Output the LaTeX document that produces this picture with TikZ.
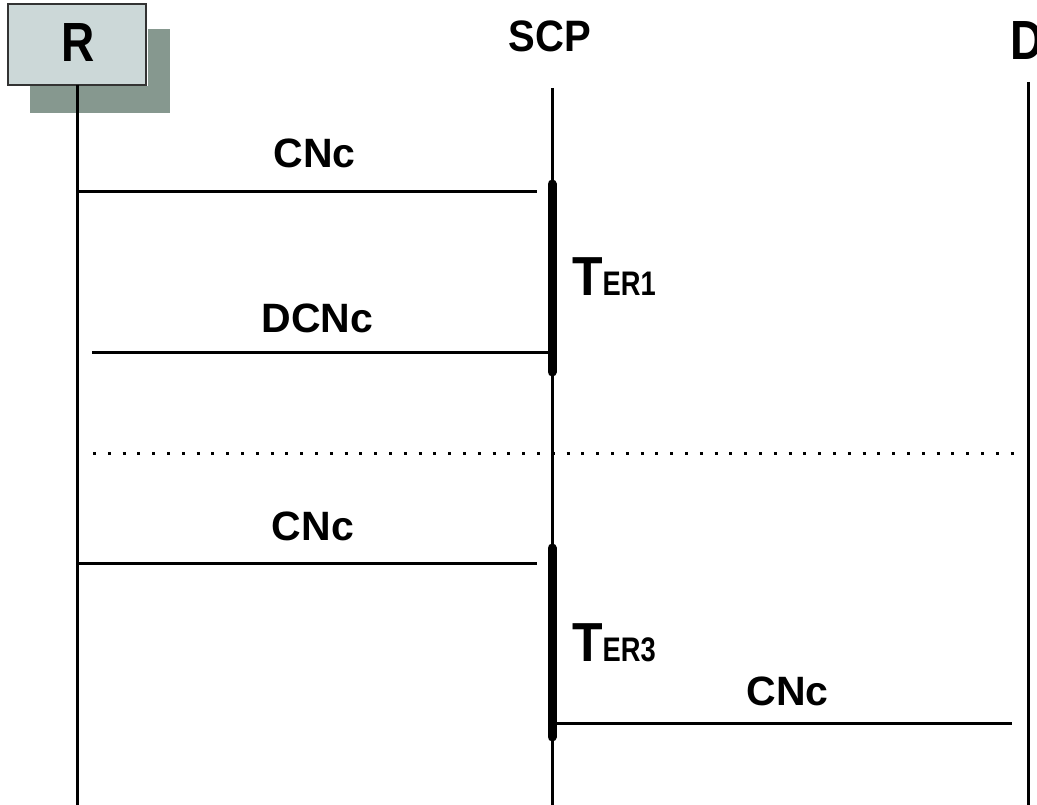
\documentclass[tikz,border=0pt]{standalone}
\usepackage{fontspec}
\setmainfont{Liberation Sans}
\usetikzlibrary{calc}
\definecolor{boxfill}{HTML}{CCD8D8}
\definecolor{boxshadow}{HTML}{86988F}
\newcommand{\drawMessage}[7]{%
    \coordinate (#1-from) at (#3,#2);
    \coordinate (#1-to) at (#4,#2);
    \draw[msg] (#1-from) -- (#1-to);
    \node[lbl, anchor=base] (#1-label) at (#6,#7) {#5};
}
\newcommand{\drawTimer}[4]{%
    \coordinate (#1-start) at (552,#2);
    \coordinate (#1-end) at (552,#3);
    \draw[bar] (#1-start) -- (#1-end);
    \node[anchor=base west, inner sep=0pt] (#1-label) at (572,{#3-76})
        {\scalebox{1}[1.1]{{\fontsize{50}{50}\selectfont T}\scalebox{0.88}[1]{\fontsize{31}{31}\selectfont ER#4}}};
}

\begin{document}
\begin{tikzpicture}[x=1pt, y=-1pt,
    every node/.style={font=\bfseries},
    life/.style={line width=3pt},
    msg/.style={line width=3pt},
    bar/.style={line width=9pt, line cap=round},
    lbl/.style={inner sep=0pt, font=\bfseries\fontsize{41}{41}\selectfont}]
\useasboundingbox (0,0) rectangle (1037,805);

\node[draw=black!80, line width=2pt, fill=boxfill, minimum width=138pt, minimum height=81pt, inner sep=0pt] (Rbox) at (77,44.5) {};
\fill[boxshadow] ($(Rbox.south west)+(23,27)$) rectangle ($(Rbox.south east)+(23,0)$);
\fill[boxshadow] ($(Rbox.north east)+(1,26)$) rectangle ($(Rbox.south east)+(23,0)$);
\node[draw=black!80, line width=2pt, fill=boxfill, minimum width=138pt, minimum height=81pt, inner sep=0pt] at (Rbox) {};
\node[anchor=base, inner sep=0pt] (R) at (78,62) {\scalebox{1}[1.2]{\fontsize{46}{46}\selectfont R}};
\node[anchor=base, inner sep=0pt] (SCP) at (550,52) {\scalebox{1}[1.1]{\fontsize{40}{40}\selectfont SCP}};
\node[anchor=base west, inner sep=0pt] (D) at (1010,60) {\scalebox{1}[1.2]{\fontsize{46}{46}\selectfont D}};

\foreach \name/\x/\top in {R/77/85, SCP/552/88, D/1028/82} {
    \coordinate (\name-top) at (\x,\top);
    \coordinate (\name-bot) at (\x,805);
    \draw[life] (\name-top) -- (\name-bot);
}

\drawTimer{ter1}{184}{372}{1}
\drawTimer{ter3}{548}{737}{3}

\drawMessage{cnc1}{192}{77}{537}{CNc}{314.5}{168}
\drawMessage{dcnc}{352}{92}{550}{DCNc}{317.5}{333}
\drawMessage{cnc2}{563}{77}{537}{CNc}{313}{540}
\drawMessage{cnc3}{723}{554}{1012}{CNc}{787.5}{705}

\coordinate (sep-left) at (93,453);
\coordinate (sep-right) at (1020,453);
\draw[line width=3pt, dash pattern=on 3pt off 11.8pt] (sep-left) -- (sep-right);
\end{tikzpicture}
\end{document}
